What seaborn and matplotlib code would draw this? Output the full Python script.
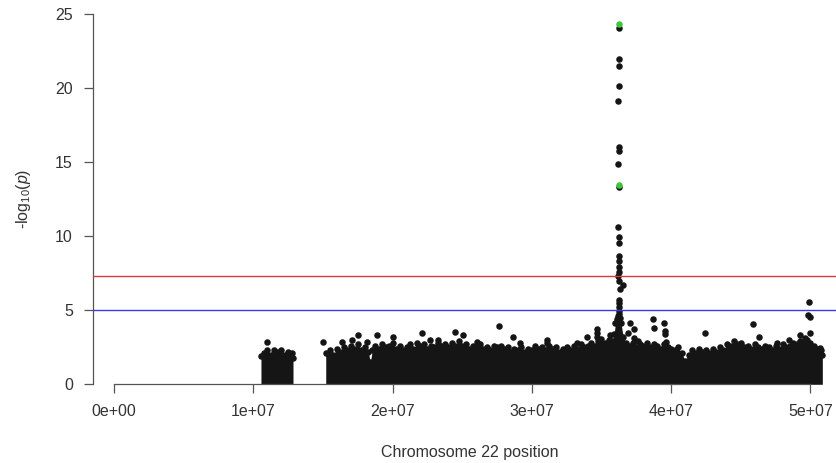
import numpy as np
import pandas as pd
import matplotlib
matplotlib.use("Agg")
import matplotlib.pyplot as plt
import seaborn as sns

# ---------------- data ----------------
# Dense bulk of SNPs: upper envelope of -log10(p) per position (Mb)
BLOCK_A_POS = [10.55, 10.75, 11.0, 11.25, 11.5, 11.75, 12.0, 12.25, 12.5,
               12.75, 12.85]
BLOCK_A_TOP = [1.9, 2.1, 2.3, 2.0, 2.3, 2.2, 2.3, 2.0, 2.2,
               2.1, 1.8]

BLOCK_B_POS = [15.2, 15.5, 15.75, 16.0, 16.25, 16.5, 16.75, 17.0, 17.25, 17.5,
               17.75, 18.0, 18.25, 18.4, 18.55, 18.75, 19.0, 19.25, 19.5, 19.75,
               20.0, 20.25, 20.5, 20.75, 21.0, 21.25, 21.5, 21.75, 22.0, 22.25,
               22.5, 22.75, 23.0, 23.25, 23.5, 23.75, 24.0, 24.25, 24.5, 24.75,
               25.0, 25.25, 25.5, 25.75, 26.0, 26.25, 26.5, 26.75, 27.0, 27.25,
               27.5, 27.75, 28.0, 28.25, 28.5, 28.75, 29.0, 29.25, 29.5, 29.75,
               30.0, 30.25, 30.5, 30.75, 31.0, 31.25, 31.5, 31.75, 32.0, 32.25,
               32.5, 32.75, 33.0, 33.25, 33.5, 33.75, 34.0, 34.25, 34.5, 34.75,
               35.0, 35.25, 35.5, 35.75, 35.9, 36.0, 36.1, 36.2, 36.3, 36.4,
               36.55, 36.75, 37.0, 37.25, 37.5, 37.75, 38.0, 38.25, 38.5, 38.75,
               39.0, 39.25, 39.5, 39.75, 40.0, 40.25, 40.5, 40.75, 41.0, 41.25,
               41.5, 41.75, 42.0, 42.25, 42.5, 42.75, 43.0, 43.25, 43.5, 43.75,
               44.0, 44.25, 44.5, 44.75, 45.0, 45.25, 45.5, 45.75, 46.0, 46.25,
               46.5, 46.75, 47.0, 47.25, 47.5, 47.75, 48.0, 48.25, 48.5, 48.75,
               49.0, 49.25, 49.5, 49.75, 50.0, 50.25, 50.5, 50.75, 50.85]
BLOCK_B_TOP = [2.1, 2.3, 2.0, 2.4, 2.2, 2.5, 2.3, 2.6, 2.4, 2.7,
               2.3, 2.5, 2.2, 1.5, 2.3, 2.6, 2.4, 2.7, 2.5, 2.6,
               2.8, 2.4, 2.6, 2.3, 2.5, 2.7, 2.4, 2.8, 2.6, 2.7,
               2.4, 2.6, 2.5, 2.8, 2.6, 2.7, 2.5, 2.8, 2.6, 2.9,
               2.6, 2.7, 2.4, 2.6, 2.5, 2.7, 2.4, 2.5, 2.3, 2.6,
               2.5, 2.6, 2.4, 2.5, 2.2, 2.4, 2.3, 2.5, 2.2, 2.4,
               2.3, 2.6, 2.4, 2.5, 2.3, 2.6, 2.4, 2.5, 2.2, 2.4,
               2.5, 2.3, 2.6, 2.4, 2.7, 2.5, 2.6, 2.8, 2.6, 2.9,
               2.7, 2.8, 3.0, 2.9, 3.4, 4.1, 4.4, 4.6, 4.5, 4.1,
               3.2, 2.8, 2.6, 2.8, 2.5, 2.7, 2.6, 2.8, 2.5, 2.7,
               2.6, 2.4, 2.7, 2.5, 2.4, 2.3, 2.5, 2.1, 1.6, 2.0,
               2.3, 2.1, 2.4, 2.2, 2.3, 2.1, 2.4, 2.2, 2.5, 2.3,
               2.7, 2.6, 2.9, 2.7, 2.8, 2.5, 2.6, 2.4, 2.7, 2.5,
               2.4, 2.6, 2.5, 2.3, 2.6, 2.4, 2.7, 2.5, 2.6, 2.8,
               2.7, 2.9, 2.8, 3.0, 2.8, 2.6, 2.4, 2.3, 2.0]

# Individually visible SNPs above the bulk (position in Mb, -log10 p)
SNP_POS = [10.96, 14.98, 16.34, 17.06, 17.52, 18.14, 18.86, 20.05, 22.09,
           22.68, 23.26, 24.48, 25.03, 26.04, 27.66, 28.66, 29.15, 31.10,
           31.10, 33.26, 33.93, 34.65, 34.65, 34.94, 35.61, 34.67, 34.74,
           36.90, 37.04, 37.33, 37.33, 37.62, 38.67, 38.77, 39.48, 39.55,
           39.55, 39.63, 42.45, 45.85, 46.32, 47.62, 48.48, 49.25, 49.60,
           49.89, 49.84, 49.96, 49.96, 50.68,
           36.25, 36.22, 36.24, 36.22, 36.20, 36.23, 36.22, 36.21, 36.25,
           36.20, 36.22, 36.28, 36.24, 36.26, 36.22, 36.26, 36.54, 36.21,
           36.22, 36.30, 36.26, 36.28, 36.25, 36.28, 36.22]
SNP_LOGP = [2.88, 2.88, 2.88, 2.99, 3.33, 2.88, 3.33, 3.22, 3.45,
            3.00, 3.00, 3.55, 3.33, 2.88, 3.94, 3.22, 2.77, 3.00,
            2.77, 2.81, 3.17, 3.72, 3.49, 3.04, 3.33, 3.20, 2.66,
            3.49, 4.12, 3.74, 3.13, 2.95, 4.39, 3.78, 4.12, 3.62,
            3.40, 2.88, 3.49, 4.05, 3.22, 2.81, 3.00, 3.33, 3.13,
            5.58, 4.68, 4.57, 3.45, 2.43,
            24.05, 21.90, 21.45, 20.10, 19.10, 16.00, 15.75, 14.85, 13.28,
            10.60, 9.95, 9.50, 8.65, 8.30, 7.90, 7.60, 6.70, 7.27,
            6.95, 6.40, 5.70, 5.50, 5.24, 4.97, 4.75]

# Highlighted SNPs (green)
HL_POS = [36.25, 36.24]
HL_LOGP = [24.28, 13.45]

GENOMEWIDE = 7.30   # -log10(5e-8)
SUGGESTIVE = 5.0    # -log10(1e-5)

X_TICKS = [0, 1e7, 2e7, 3e7, 4e7, 5e7]
X_TICK_LABELS = ["0e+00", "1e+07", "2e+07", "3e+07", "4e+07", "5e+07"]
Y_TICKS = [0, 5, 10, 15, 20, 25]
X_LABEL = "Chromosome 22 position"

# ---------------- figure ----------------
sns.set_style("white")
plt.rcParams["font.family"] = ["Liberation Sans", "DejaVu Sans"]
plt.rcParams["mathtext.fontset"] = "custom"
plt.rcParams["mathtext.rm"] = "Liberation Sans"
plt.rcParams["mathtext.it"] = "Liberation Sans:italic"

W, H = 837, 463
fig = plt.figure(figsize=(W / 100, H / 100), dpi=100)
left_px, right_px, top_px, bottom_px = 92.7, 846.0, 13.5, 384.3
ax = fig.add_axes([left_px / W, (H - bottom_px) / H,
                   (right_px - left_px) / W, (bottom_px - top_px) / H])

BLACK = "#151515"
MS = 22

blocks = [(BLOCK_A_POS, BLOCK_A_TOP), (BLOCK_B_POS, BLOCK_B_TOP)]
for pos, top in blocks:
    bp = np.array(pos) * 1e6
    ax.fill_between(bp, 0, top, color=BLACK, lw=0, zorder=2)
    sns.scatterplot(x=bp, y=top, ax=ax, color=BLACK, s=MS, linewidth=0,
                    zorder=3, legend=False)

df = pd.DataFrame({"pos": np.array(SNP_POS) * 1e6, "logp": SNP_LOGP})
sns.scatterplot(data=df, x="pos", y="logp", ax=ax, color=BLACK, s=MS,
                linewidth=0, zorder=3, legend=False)

ax.axhline(GENOMEWIDE, color="#d63a3a", lw=1.0, zorder=4)
ax.axhline(SUGGESTIVE, color="#3a3ae0", lw=1.0, zorder=4)

hl = pd.DataFrame({"pos": np.array(HL_POS) * 1e6, "logp": HL_LOGP})
sns.scatterplot(data=hl, x="pos", y="logp", ax=ax, color="#3fc43f", s=MS,
                linewidth=0, zorder=5, legend=False)

ax.set_xlim(-1.53e6, 5.255e7)
ax.set_ylim(0, 25)

for s in ["top", "right"]:
    ax.spines[s].set_visible(False)
AX_COL = "#555555"
for s in ["left", "bottom"]:
    ax.spines[s].set_color(AX_COL)
    ax.spines[s].set_linewidth(0.9)
ax.spines["bottom"].set_bounds(X_TICKS[0], X_TICKS[-1])
ax.spines["left"].set_bounds(Y_TICKS[0], Y_TICKS[-1])

ax.set_xticks(X_TICKS)
ax.set_xticklabels(X_TICK_LABELS)
ax.set_yticks(Y_TICKS)
ax.tick_params(axis="both", which="major", length=6.8, width=0.9,
               color=AX_COL, labelsize=11.5, labelcolor="#333333", pad=7.5,
               direction="out", bottom=True, left=True)

ax.set_xlabel(X_LABEL, fontsize=11.5, color="#333333")
ax.set_ylabel(r"-log$_{\mathregular{10}}$($\it{p}$)", fontsize=11.5,
              color="#333333")
ax.xaxis.set_label_coords(0.5, (bottom_px - 445) / (bottom_px - top_px))
ax.yaxis.set_label_coords((33 - left_px) / (right_px - left_px), 0.5)
ax.grid(False)

fig.savefig("out.png", dpi=100)
